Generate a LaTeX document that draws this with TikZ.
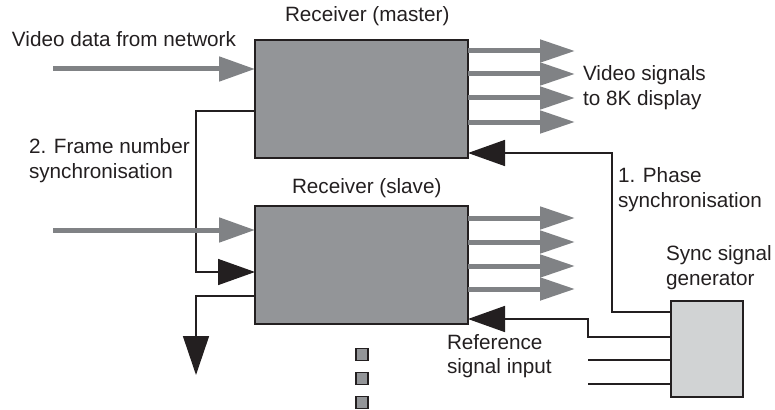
\documentclass[tikz,border=0pt]{standalone}
\usepackage{fontspec}
\setmainfont{Liberation Sans}
\usetikzlibrary{arrows.meta}

\definecolor{boxgray}{HTML}{939598}
\definecolor{flowgray}{HTML}{808285}
\definecolor{genfill}{HTML}{D1D3D4}
\definecolor{ink}{HTML}{231F20}

\tikzset{
  receiver/.style={draw=ink, line width=2.4pt, fill=boxgray, anchor=north west,
    minimum width=213pt, minimum height=118pt, inner sep=0pt, outer sep=0pt},
  genbox/.style={draw=ink, line width=2pt, fill=genfill, anchor=north west,
    minimum width=72pt, minimum height=96pt, inner sep=0pt, outer sep=0pt},
  dotbox/.style={draw=ink, line width=1.6pt, fill=boxgray,
    minimum size=12pt, inner sep=0pt},
  flow/.style={draw=flowgray, line width=5pt,
    -{Triangle[length=36pt, width=24pt, fill=flowgray]}},
  signal/.style={draw=ink, line width=1.6pt},
  sigarrow/.style={signal, -{Triangle[length=37pt, width=26pt, fill=ink]}},
  lbl/.style={anchor=base west, inner sep=0pt, outer sep=0pt,
    font=\fontsize{20.7}{25}\selectfont, text=ink},
}

\begin{document}
\begin{tikzpicture}[x=1pt, y=-1pt]
\useasboundingbox (0,0) rectangle (775,409);

% receivers and sync generator
\node[receiver] (master) at (255,40) {};
\node[receiver] (slave) at (255,206) {};
\node[genbox] (gen) at (671,301) {};

% free ends and bends of the connectors
\coordinate (vinm) at (53,69);
\coordinate (vins) at (53,230);
\coordinate (fsa) at (196,111);
\coordinate (fsb) at (196,272);
\coordinate (outa) at (196,296);
\coordinate (outb) at (196,375);
\coordinate (pha) at (612,153);
\coordinate (phb) at (612,312);
\coordinate (refa) at (588,319);
\coordinate (refb) at (588,337);
\coordinate (auxa) at (588,360);
\coordinate (auxb) at (588,384);
\coordinate (mo1) at (575,51);
\coordinate (mo2) at (575,74);
\coordinate (mo3) at (575,98);
\coordinate (mo4) at (575,122);
\coordinate (so1) at (575,218);
\coordinate (so2) at (575,242);
\coordinate (so3) at (575,266);
\coordinate (so4) at (575,289);

% 2. frame number synchronisation, master to slave
\draw[sigarrow] (fsa -| master.west) -- (fsa) -- (fsb) -- (fsb -| slave.west);
% frame number passed on downstream
\draw[signal, -{Triangle[length=39pt, width=26pt, fill=ink]}]
  (outa -| slave.west) -- (outa) -- (outb);

% video input from the network
\draw[flow] (vinm) -- (vinm -| master.west);
\draw[flow] (vins) -- (vins -| slave.west);

% video outputs to the display
\foreach \c in {mo1,mo2,mo3,mo4}
  \draw[flow, -{Triangle[length=35pt, width=22pt, fill=flowgray]}] (\c -| master.east) -- (\c);
\foreach \c in {so1,so2,so3,so4}
  \draw[flow, -{Triangle[length=35pt, width=22pt, fill=flowgray]}] (\c -| slave.east) -- (\c);

% 1. phase synchronisation and reference signals from the generator
\draw[sigarrow] (phb -| gen.west) -- (phb) -- (pha) -- (pha -| master.east);
\draw[sigarrow] (refb -| gen.west) -- (refb) -- (refa) -- (refa -| slave.east);
\draw[signal] (auxa) -- (auxa -| gen.west);
\draw[signal] (auxb) -- (auxb -| gen.west);

% further receivers
\node[dotbox] (more1) at (362,354.5) {};
\node[dotbox] (more2) at (362,378.5) {};
\node[dotbox] (more3) at (362,402.5) {};

% labels
\node[lbl] (tmaster) at (285,22) {Receiver (master)};
\node[lbl] (tslave) at (292,193) {Receiver (slave)};
\node[lbl] (tvin) at (12,47) {Video data from network};
\node[lbl] (tvout1) at (583,81) {Video signals};
\node[lbl] (tvout2) at (583,106) {to 8K display};
\node[lbl] (tfs1) at (29,153) {2. Frame number};
\node[lbl] (tfs2) at (29,178) {synchronisation};
\node[lbl] (tph1) at (618,182) {1. Phase};
\node[lbl] (tph2) at (618,207) {synchronisation};
\node[lbl] (tgen1) at (666,260) {Sync signal};
\node[lbl] (tgen2) at (666,285) {generator};
\node[lbl] (tref1) at (447,349) {Reference};
\node[lbl] (tref2) at (447,373) {signal input};
\end{tikzpicture}
\end{document}
